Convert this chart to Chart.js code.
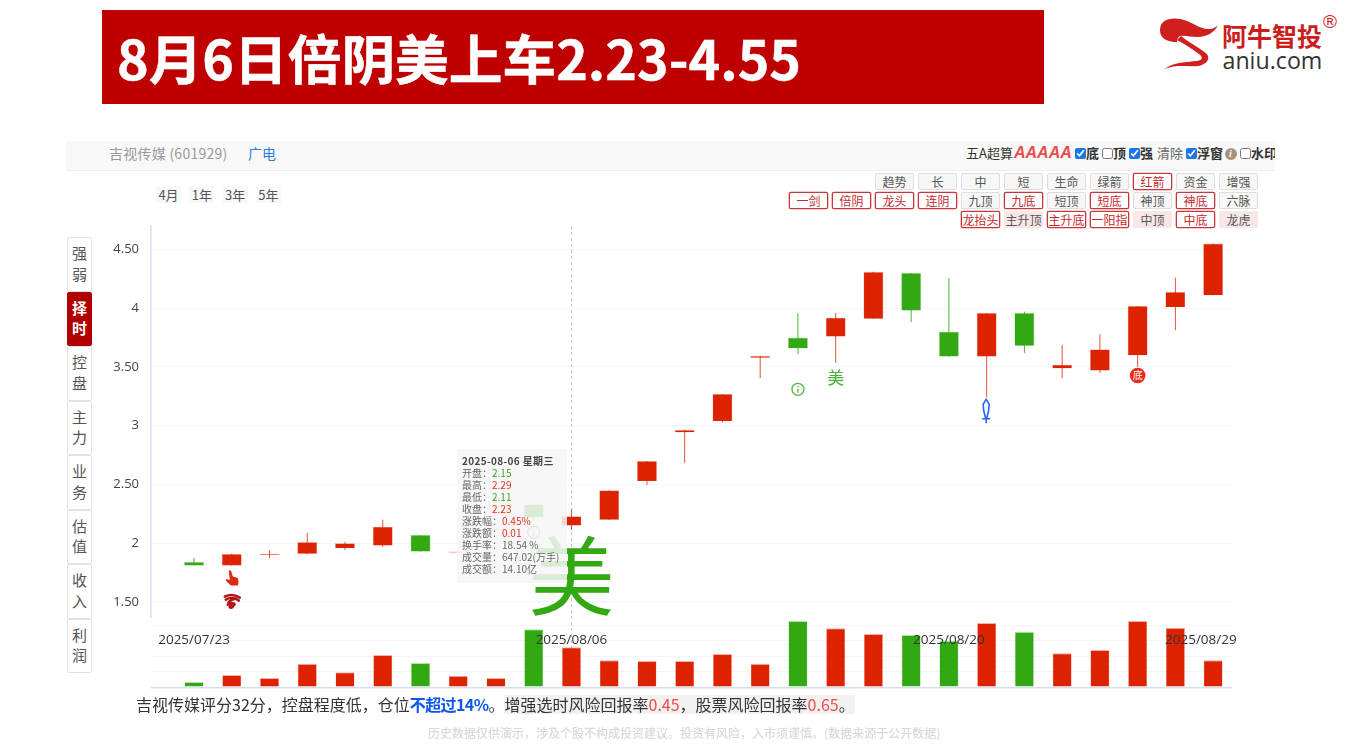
<!DOCTYPE html>
<html lang="zh"><head><meta charset="utf-8">
<script src="https://cdn.jsdelivr.net/npm/chart.js@4"></script>
<style>
html,body{margin:0;padding:0;background:#fff;width:1366px;height:746px;overflow:hidden;font-family:"Noto Sans CJK SC","Noto Sans",sans-serif}
.a{position:absolute;white-space:nowrap}
canvas{position:absolute;left:0;top:0}
#title{left:102px;top:10px;width:942px;height:94px;background:#bf0000;color:#fff;font-weight:700;font-size:53.7px;line-height:94px;text-indent:15px;-webkit-text-stroke:.5px #fff}
#strip{left:66px;top:141px;width:1209px;height:30px;background:#f8f8f8;border-bottom:1px solid #eee;box-sizing:border-box;overflow:hidden}
.btn{position:absolute;box-sizing:border-box;width:39px;height:17px;font-size:12px;line-height:15px;text-align:center;border:1px solid #ddd;background:#f7f7f7;color:#555;border-radius:2px;white-space:nowrap}
.btn.r{border:1px solid #c9363a;background:#fff;color:#c32a2c;box-shadow:0 0 0 .3px #c9363a}
.btn.p{border-color:#f7e7e7;background:#f7e7e7;color:#555}
.tag{position:absolute;top:186px;width:25px;height:17px;background:#f8f8f8;color:#555;font-size:13px;line-height:17px;text-align:center}
.tab{position:absolute;left:67px;width:25px;height:54.5px;box-sizing:border-box;border:1px solid #e2e2e2;border-radius:2px;background:#fff;color:#555;font-size:15px;line-height:20.5px;text-align:center;padding-top:5px;white-space:pre-line}
.tab.on{background:#b00000;color:#fff;border-color:#b00000;font-weight:700}
.cb{position:absolute;top:148px;margin:0;width:11px;height:11px;accent-color:#1677e8}
.s{position:absolute;top:144px;font-size:13px;line-height:18px;color:#333;white-space:nowrap}
#tip{left:457px;top:449px;width:110px;height:134px;background:rgba(246,246,246,.86);font-size:10px;line-height:11.95px;color:#666;box-sizing:border-box;padding:6px 0 0 5px}
#tip b{color:#444;font-weight:700;letter-spacing:.35px}
.up{color:#e8301c}.dn{color:#38a81c}
#note{left:136px;top:693px;font-size:16px;line-height:22px;color:#333}
#note .g{background:#f1f1f1;display:inline-block;height:19px;line-height:19px}
#note .bl{color:#0d57f0;font-weight:700;letter-spacing:-.6px}
#note .rd{color:#f04a4a}
#foot{left:428px;top:725px;font-size:12px;line-height:16px;color:#d9d9d9;font-weight:500}
</style></head><body>
<div class="a" id="title">8月6日倍阴美上车2.23-4.55</div>
<svg class="a" style="left:0;top:0" width="1366" height="80" viewBox="0 0 1366 80">
<path fill="#d01f1f" d="M1160 30C1160 20 1170 17 1180 19C1192 21 1200 30 1210 29C1214 28.5 1216 27 1218 25C1215 32 1207 37 1198 37C1190 37 1185 35 1180 36C1176 38 1178 44 1176 42C1170 42 1160 40 1160 30Z"/>
<path fill="#d01f1f" d="M1181 36C1188 42 1200 48 1207 54C1211 60 1205 65 1198 66C1188 67 1176 64 1165 69C1172 62 1188 62 1197 61C1203 60 1203 57 1199 54C1192 49 1185 44 1177 40Z"/>
</svg>
<div class="a" style="left:1222px;top:17px;font-size:25px;line-height:36px;font-weight:700;color:#cc1d1d">阿牛智投</div>
<div class="a" style="left:1222.5px;top:43px;font-size:23.2px;line-height:34px;color:#333;font-family:'Open Sans'">aniu.com</div>
<div class="a" style="left:1323px;top:8px;font-size:19px;line-height:28px;color:#cc1d1d;font-family:'Liberation Sans'">®</div>
<div class="a" id="strip"></div>
<div id="ui"></div>
<canvas id="c" width="1366" height="746"></canvas>
<div class="a" id="tip"></div>
<div class="a" id="note">吉视传媒评分32分，控盘程度低，仓位<span class="bl">不超过14%</span>。<span class="g">增强选时风险回报率<span class="rd">0.45</span>，股票风险回报率<span class="rd">0.65</span>。</span></div>
<div class="a" id="foot">历史数据仅供演示，涉及个股不构成投资建议。投资有风险，入市须谨慎。(数据来源于公开数据)</div>
<script>
const dates = ['2025/07/23','2025/07/24','2025/07/25','2025/07/28','2025/07/29','2025/07/30','2025/07/31','2025/08/01','2025/08/04','2025/08/05','2025/08/06','2025/08/07','2025/08/08','2025/08/11','2025/08/12','2025/08/13','2025/08/14','2025/08/15','2025/08/18','2025/08/19','2025/08/20','2025/08/21','2025/08/22','2025/08/25','2025/08/26','2025/08/27','2025/08/28','2025/08/29'];
const opens  = [1.84,1.81,1.90,1.91,1.96,1.98,2.07,1.92,2.11,2.33,2.15,2.20,2.53,2.945,3.04,3.578,3.75,3.76,3.91,4.30,3.80,3.59,3.96,3.49,3.47,3.60,4.01,4.11];
const closes = [1.81,1.91,1.91,2.01,2.00,2.14,1.93,1.93,2.12,2.22,2.23,2.45,2.70,2.965,3.27,3.595,3.66,3.92,4.31,3.98,3.59,3.96,3.68,3.52,3.65,4.02,4.14,4.55];
const highs  = [1.875,1.91,1.94,2.09,2.01,2.20,2.07,1.93,2.12,2.33,2.29,2.45,2.70,2.965,3.27,3.595,3.96,3.96,4.31,4.30,4.255,3.96,3.97,3.687,3.778,4.02,4.26,4.55];
const lows   = [1.81,1.81,1.877,1.906,1.943,1.97,1.93,1.92,2.11,2.19,2.11,2.20,2.495,2.683,3.03,3.406,3.608,3.537,3.91,3.88,3.59,3.242,3.62,3.404,3.452,3.50,3.815,4.11];
const volumes = [85,198,150,381,242,521,392,187,150,936,647.02,436,424,424,537,381,1069,952,860,844,752,1037,897,548,602,1069,961,436];
const priceTicks = [1.5,2,2.5,3,3.5,4,4.5];
const volumeTicks = [0,250,500,750,1000];
const dateTicks = [0,10,20,27];
const tooltipRows = [['开盘：','2.15','dn'],['最高：','2.29','up'],['最低：','2.11','dn'],['收盘：','2.23','up'],['涨跌幅：','0.45%','up'],['涨跌额：','0.01','up'],['换手率：','18.54 %',''],['成交量：','647.02(万手)',''],['成交额：','14.10亿','']];
const btnRow1 = [['趋势',''],['长',''],['中',''],['短',''],['生命',''],['绿箭',''],['红箭','r'],['资金',''],['增强','']];
const btnRow2 = [['一剑','r'],['倍阴','r'],['龙头','r'],['连阴','r'],['九顶',''],['九底','r'],['短顶',''],['短底','r'],['神顶',''],['神底','r'],['六脉','']];
const btnRow3 = [['龙抬头','r'],['主升顶','p'],['主升底','r'],['一阳指','r'],['中顶','p'],['中底','r'],['龙虎','p']];
const tabs = ['强\n弱','择\n时','控\n盘','主\n力','业\n务','估\n值','收\n入','利\n润'];
const periods = ['4月','1年','3年','5年'];

const ui = document.getElementById('ui');
function add(cls, txt, css){const d=document.createElement('div');d.className=cls;d.textContent=txt;d.style.cssText=css;ui.appendChild(d);return d;}
function addRow(row, top, firstIdx){row.forEach((b,i)=>add('btn '+b[1],b[0],`left:${789+43*(firstIdx+i)}px;top:${top}px`));}
addRow(btnRow1,173,2);addRow(btnRow2,192,0);addRow(btnRow3,211,4);
tabs.forEach((t,i)=>add('tab'+(i===1?' on':''),t,`top:${237+54.55*i}px`));
periods.forEach((t,i)=>add('tag',t,`left:${156+33.3*i}px`));
add('s','吉视传媒 (601929)','left:109px;color:#999;font-size:14px;letter-spacing:.25px');
add('s','广电','left:248px;color:#2a7ae2;font-size:14px');
add('s','五A超算','left:966px');
add('s','AAAAA','left:1014px;color:#e84b4b;font:italic 700 16px/18px "Liberation Sans"');
[[1075,true,'底'],[1102,false,'顶'],[1129,true,'强'],[1186,true,'浮窗'],[1240,false,'水印']].forEach(c=>{
  const i=document.createElement('input');i.type='checkbox';i.checked=c[1];i.className='cb';i.style.left=c[0]+'px';ui.appendChild(i);
  const s=add('s',c[2],`left:${c[0]+11}px;font-weight:700`);
  if(c[2]==='水印'){s.style.width='24px';s.style.overflow='hidden';}
});
add('s','清除','left:1157px;color:#666');
add('s','i',`left:1224.5px;top:147.5px;width:12px;height:12px;border-radius:50%;background:#a8927a;color:#fff;font:italic 700 10px/12px "Liberation Serif";text-align:center`);

const tip=document.getElementById('tip');
tip.innerHTML='<b>2025-08-06 星期三</b><br>'+tooltipRows.map(r=>`${r[0]}<span class="${r[2]}">${r[1]}</span>`).join('<br>');

const RED='#dd2200', GREEN='#32a812';
const colorOf=i=>closes[i]>=opens[i]?RED:GREEN;
const idx=dates.map((_,i)=>i);
const FONT='"Open Sans"';

const marks={id:'marks',
 beforeDatasetsDraw(c){
  const {ctx,scales:{x},chartArea:a}=c, px=x.getPixelForValue(10);
  ctx.save();ctx.strokeStyle='#c4c4c4';ctx.setLineDash([3,3]);ctx.beginPath();ctx.moveTo(Math.round(px)+.5,a.top);ctx.lineTo(Math.round(px)+.5,a.bottom);ctx.stroke();ctx.restore();
 },
 afterDatasetsDraw(c){
  const {ctx,scales:{x,price:y}}=c;
  const X=i=>x.getPixelForValue(i), L=i=>y.getPixelForValue(lows[i]);
  const txt=(t,px,py,size,col,w)=>{ctx.font=`${w||400} ${size}px "Noto Sans CJK SC"`;ctx.fillStyle=col;ctx.textAlign='center';ctx.textBaseline='middle';ctx.fillText(t,px,py);};
  const info=(px,py)=>{ctx.strokeStyle='#55b548';ctx.lineWidth=1.3;ctx.beginPath();ctx.arc(px,py,6,0,7);ctx.stroke();ctx.fillStyle='#55b548';ctx.fillRect(px-.6,py-.8,1.3,4.2);ctx.fillRect(px-.6,py-3.5,1.3,1.4);};
  ctx.save();
  txt('美',X(10),L(10)+46,86,GREEN);
  info(X(9),L(9)+11.5);
  info(X(16),L(16)+35);
  txt('美',X(17),L(17)+14.5,17,'#49b03a');
  // hand pointer under candle 1
  let hx=X(1),hy=L(1)+13;
  ctx.fillStyle='#dd2a10';ctx.beginPath();
  ctx.moveTo(hx-3,hy-8);ctx.quadraticCurveTo(hx-1.5,hy-9,hx-.5,hy-7);ctx.lineTo(hx+1,hy-2);ctx.lineTo(hx+6,hy-.5);ctx.quadraticCurveTo(hx+7.5,hy+4,hx+6,hy+7);ctx.lineTo(hx-1,hy+7);ctx.lineTo(hx-6,hy+2);ctx.lineTo(hx-5.5,hy+.5);ctx.lineTo(hx-2,hy+1.5);ctx.closePath();ctx.fill();
  // dragon emblem
  hy=L(1)+35;
  ctx.strokeStyle='#b3141a';ctx.lineWidth=2.6;ctx.lineCap='round';
  [[[-7,-4],[-1,-7],[3,-6],[8,-3]],[[-6,-1],[-1,-4],[5,-2],[7,0]],[[4,-2],[-3,0],[-6,3],[0,3]],[[-4,4],[3,1],[5,4],[0,6]],[[-1,5],[-4,7],[0,8],[1,6]]].forEach(p=>{
    ctx.beginPath();ctx.moveTo(hx+p[0][0],hy+p[0][1]);ctx.bezierCurveTo(hx+p[1][0],hy+p[1][1],hx+p[2][0],hy+p[2][1],hx+p[3][0],hy+p[3][1]);ctx.stroke();});
  // sword under candle 21
  hx=X(21)-.5;hy=L(21);
  ctx.strokeStyle='#2a66f0';ctx.lineWidth=1.6;ctx.lineCap='butt';
  ctx.beginPath();ctx.moveTo(hx,hy+2);ctx.lineTo(hx+3,hy+7);ctx.quadraticCurveTo(hx+3,hy+13,hx+.8,hy+20);ctx.lineTo(hx-.8,hy+20);ctx.quadraticCurveTo(hx-3,hy+13,hx-3,hy+7);ctx.closePath();ctx.stroke();
  ctx.beginPath();ctx.moveTo(hx-4,hy+21.5);ctx.lineTo(hx+4,hy+21.5);ctx.moveTo(hx,hy+20);ctx.lineTo(hx,hy+26);ctx.stroke();
  // bottom badge under candle 25
  const bx=X(25),by=L(25)+8.5;
  ctx.fillStyle='#ee2a1a';ctx.beginPath();ctx.arc(bx,by,7.8,0,7);ctx.fill();
  txt('底',bx,by,10,'#fff');
  ctx.restore();
 }};

Chart.defaults.font.family=FONT;
new Chart(document.getElementById('c'),{
 type:'bar',
 data:{datasets:[
  {label:'影线',order:3,yAxisID:'price',data:idx.map(i=>({x:i,y:[lows[i],highs[i]]})),backgroundColor:idx.map(i=>closes[i]>=opens[i]?'#e8503a':'#4cb538'),barThickness:1,grouped:false,inflateAmount:0},
  {label:'K线',order:2,yAxisID:'price',data:idx.map(i=>({x:i,y:[opens[i],closes[i]]})),backgroundColor:idx.map(colorOf),borderColor:idx.map(i=>closes[i]>=opens[i]?'rgba(221,34,0,.35)':'rgba(50,168,18,.35)'),borderWidth:.6,barThickness:20,grouped:false,inflateAmount:0},
  {label:'成交量',order:1,yAxisID:'vol',data:idx.map(i=>({x:i,y:volumes[i]})),backgroundColor:idx.map(colorOf),borderColor:idx.map(i=>closes[i]>=opens[i]?'rgba(221,34,0,.35)':'rgba(50,168,18,.35)'),borderWidth:{top:1,left:.5,right:.5},barThickness:19,grouped:false,inflateAmount:0}
 ]},
 plugins:[marks],
 options:{
  responsive:false,animation:false,events:[],
  layout:{padding:{left:66,right:134,top:226,bottom:58.7}},
  plugins:{legend:{display:false},tooltip:{enabled:false}},
  scales:{
   x:{type:'linear',offset:false,min:-1.14,max:27.5,position:{vol:1025},
      afterBuildTicks(s){s.ticks=dateTicks.map(v=>({value:v}));},
      ticks:{z:1,autoSkip:false,maxRotation:0,padding:0,color:'#333',font:{size:13.5},
        callback:v=>v===27?dates[v]+'       ':dates[v]},
      grid:{display:false,offset:false},border:{display:false}},
   vol:{type:'linear',position:'left',stack:'y',stackWeight:70.3,min:0,max:1134,
      afterBuildTicks(s){s.ticks=volumeTicks.map(v=>({value:v}));},
      afterFit(s){s.width=85;},
      ticks:{display:false},
      grid:{color:c=>c.tick.value===0?'#d5def0':'#f2f5f9',lineWidth:c=>c.tick.value===0?1.5:1,drawTicks:false},border:{display:false}},
   price:{type:'linear',position:'left',stack:'y',stackWeight:391,min:1.372,max:4.7,
      afterBuildTicks(s){s.ticks=priceTicks.map(v=>({value:v}));},
      afterFit(s){s.width=85;},
      ticks:{padding:12,color:'#444',font:{size:13},callback:v=>Number.isInteger(v)?String(v):v.toFixed(2)},
      grid:{color:'#f2f5f9',drawTicks:false},border:{color:'#dfe6f5',width:2}}
  }
 }
});
</script>
</body></html>
